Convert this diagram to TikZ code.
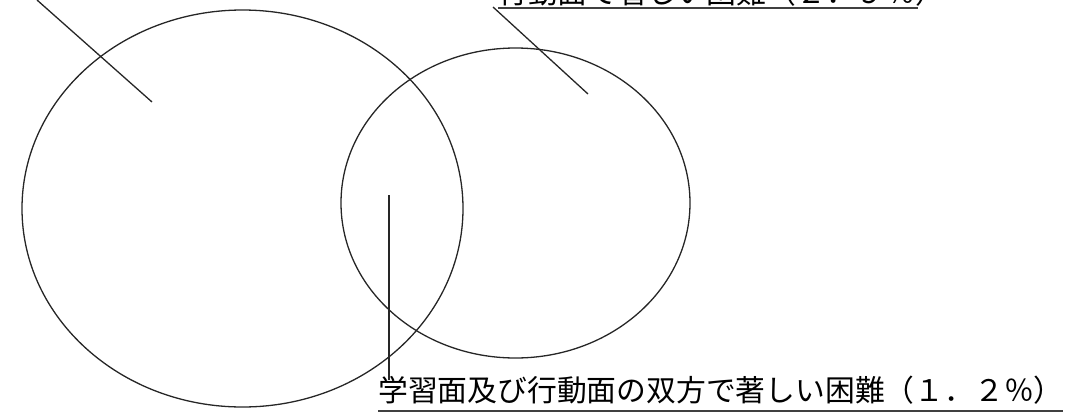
\documentclass[tikz,border=0pt]{standalone}
\usepackage{fontspec}
\newfontfamily\jpfont{Noto Sans CJK JP}
\tikzset{
  venn/.style={line width=1.3pt, draw=black!85},
  leader/.style={line width=1.3pt, draw=black!85},
  jplabel/.style={inner sep=0pt, font=\jpfont\fontsize{29.8}{30}\selectfont, anchor=base west},
  uline/.style={line width=2pt, draw=black!75}
}
\begin{document}
\begin{tikzpicture}[x=1pt, y=-1pt]
    \useasboundingbox (0,0) rectangle (1068,416);

    % 1. Draw the two sets (learning / behaviour)
    \draw[venn] (242.5,208.5) ellipse (220.5 and 198.5);
    \draw[venn] (515.5,203) ellipse (174.5 and 155);

    % 2. Labels, underlined (top one runs off the page)
    \node[jplabel] (lblBehav) at (498,3) {行動面で著しい困難（２．９％）};
    \node[jplabel] (lblBoth) at (378,401) {学習面及び行動面の双方で著しい困難（１．２％）};
    \coordinate (ulBehavA) at (498,7.5);
    \coordinate (ulBehavB) at (918,7.5);
    \coordinate (ulBothA) at (378,411);
    \coordinate (ulBothB) at (1063,411);
    \draw[uline] (ulBehavA) -- (ulBehavB);
    \draw[uline] (ulBothA) -- (ulBothB);

    % 3. Leader line ends
    \coordinate (L) at (152,102);    % inside left set
    \coordinate (Ltop) at (37,0);    % toward label above the page
    \coordinate (R) at (588,94);     % inside right set
    \coordinate (Rtop) at (493,7);   % under behaviour label
    \coordinate (M) at (389,195);    % in the overlap
    \coordinate (Mbot) at (389,380); % above both label

    % 4. Draw leader lines
    \draw[leader] (Ltop) -- (L);
    \draw[leader] (Rtop) -- (R);
    \draw[leader] (Mbot) -- (M);

\end{tikzpicture}
\end{document}
